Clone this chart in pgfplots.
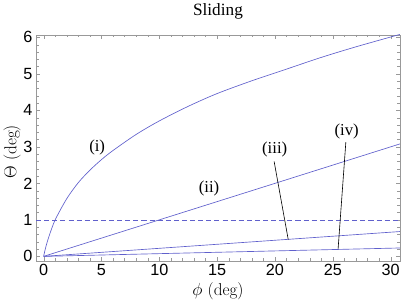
\documentclass[border=0pt]{standalone}
\usepackage{fontspec}
\usepackage{pgfplots}
\pgfplotsset{compat=1.18}
\newfontfamily\helv{Liberation Sans}
\newfontfamily\tms{Liberation Serif}
\definecolor{curveblue}{RGB}{96,96,204}

\begin{document}
\begin{tikzpicture}
\begin{axis}[
    scale only axis,
    width=359pt, height=223pt,
    xmin=-0.65, xmax=30.8,
    ymin=-0.12, ymax=6.07,
    xtick={0,5,...,30},
    ytick={0,1,...,6},
    minor x tick num=4,
    minor y tick num=4,
    tick align=inside,
    major tick length=4pt,
    minor tick length=2.5pt,
    axis line style={gray!80},
    tick style={gray!80},
    tick label style={font=\helv\fontsize{16}{18}\selectfont},
    /pgf/number format/assume math mode=true,
    xlabel={$\phi$ (deg)},
    ylabel={$\Theta$ (deg)},
    label style={font=\fontsize{17}{19}\selectfont},
    ylabel style={yshift=-4pt, xshift=-4pt},
    title={Sliding},
    title style={font=\tms\fontsize{17}{19}\selectfont, yshift=6pt},
]
% dashed reference level
\addplot[color=curveblue, dash pattern=on 5pt off 3pt, line width=0.7pt] coordinates {(-0.65,1) (30.8,1)};

% (i)
\addplot[color=curveblue, line width=0.65pt, smooth] coordinates {
    (0,0) (0.2,0.27) (0.5,0.58) (1,1.0) (2,1.58) (3,2.02) (4,2.36)
    (5,2.65) (6,2.9) (8,3.34) (10,3.71) (12.5,4.11) (15,4.46)
    (18,4.81) (21,5.13) (24,5.45) (27,5.74) (30.8,6.08)
};
% (ii)
\addplot[color=curveblue, line width=0.65pt] coordinates {(0,0) (30.8,3.08)};
% (iii)
\addplot[color=curveblue, line width=0.65pt] coordinates {(0,0) (30.8,0.68)};
% (iv)
\addplot[color=curveblue, line width=0.65pt] coordinates {(0,0) (30.8,0.23)};

% pointers
\addplot[black, line width=0.6pt] coordinates {(19.93,2.6) (21.15,0.46)};
\addplot[black, line width=0.6pt] coordinates {(26.13,3.13) (25.46,0.2)};

\node[font=\tms\fontsize{16.5}{18}\selectfont] at (axis cs:4.63,2.97) {(i)};
\node[font=\tms\fontsize{16.5}{18}\selectfont] at (axis cs:14.3,1.86) {(ii)};
\node[font=\tms\fontsize{16.5}{18}\selectfont] at (axis cs:19.98,2.92) {(iii)};
\node[font=\tms\fontsize{16.5}{18}\selectfont] at (axis cs:26.2,3.43) {(iv)};
\end{axis}
\end{tikzpicture}
\end{document}
